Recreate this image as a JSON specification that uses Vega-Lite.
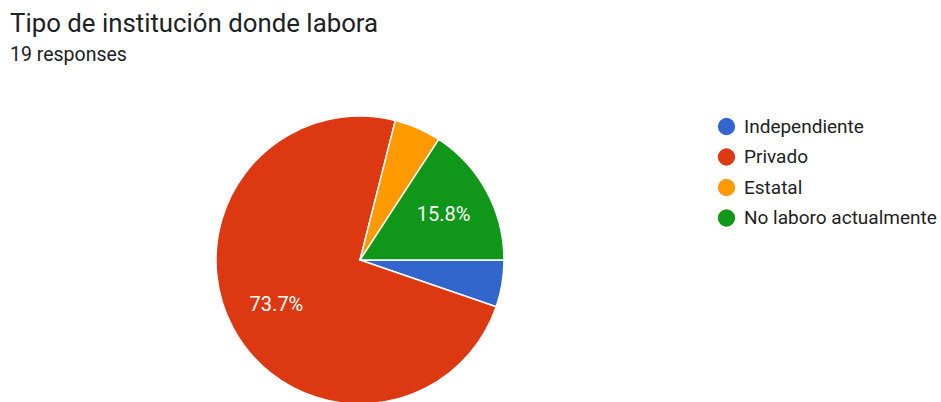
{
  "$schema": "https://vega.github.io/schema/vega-lite/v6.json",
  "autosize": "none",
  "padding": {"left": 0, "top": 90, "right": 221, "bottom": 0},
  "width": 720,
  "height": 340,
  "background": "white",
  "config": {"view": {"stroke": null}, "font": "Roboto"},
  "title": {
    "text": "Tipo de institución donde labora",
    "subtitle": "19 responses",
    "anchor": "start",
    "frame": "group",
    "dx": 10,
    "offset": 24,
    "font": "Roboto",
    "fontSize": 25.8,
    "fontWeight": "normal",
    "color": "#202124",
    "subtitleFont": "Roboto",
    "subtitleFontSize": 19.5,
    "subtitleColor": "#202124",
    "subtitlePadding": 9
  },
  "data": {
    "values": [
      {"tipo": "Independiente", "n": 1, "orden": 1, "etiqueta": ""},
      {"tipo": "Privado", "n": 14, "orden": 2, "etiqueta": "73.7%"},
      {"tipo": "Estatal", "n": 1, "orden": 3, "etiqueta": ""},
      {"tipo": "No laboro actualmente", "n": 3, "orden": 4, "etiqueta": "15.8%"}
    ]
  },
  "encoding": {
    "theta": {"field": "n", "type": "quantitative", "stack": true, "scale": {"range": [1.5708, 7.854]}},
    "order": {"field": "orden", "type": "quantitative"}
  },
  "layer": [
    {
      "mark": {"type": "arc", "outerRadius": 144, "stroke": "white", "strokeWidth": 1.5},
      "encoding": {
        "color": {
          "field": "tipo",
          "type": "nominal",
          "sort": null,
          "scale": {
            "domain": ["Independiente", "Privado", "Estatal", "No laboro actualmente"],
            "range": ["#3366cc", "#dc3912", "#ff9900", "#109618"]
          },
          "legend": {
            "title": null,
            "orient": "none",
            "legendX": 717,
            "legendY": 27,
            "symbolType": "circle",
            "symbolSize": 300,
            "symbolStrokeWidth": 0,
            "labelFont": "Roboto",
            "labelFontSize": 19,
            "labelColor": "#222222",
            "labelOffset": 8,
            "labelLimit": 300,
            "rowPadding": 10.5
          }
        }
      }
    },
    {
      "mark": {"type": "text", "radius": 95, "fontSize": 20, "font": "Roboto", "color": "white"},
      "encoding": {
        "text": {"field": "etiqueta", "type": "nominal"}
      }
    }
  ]
}
